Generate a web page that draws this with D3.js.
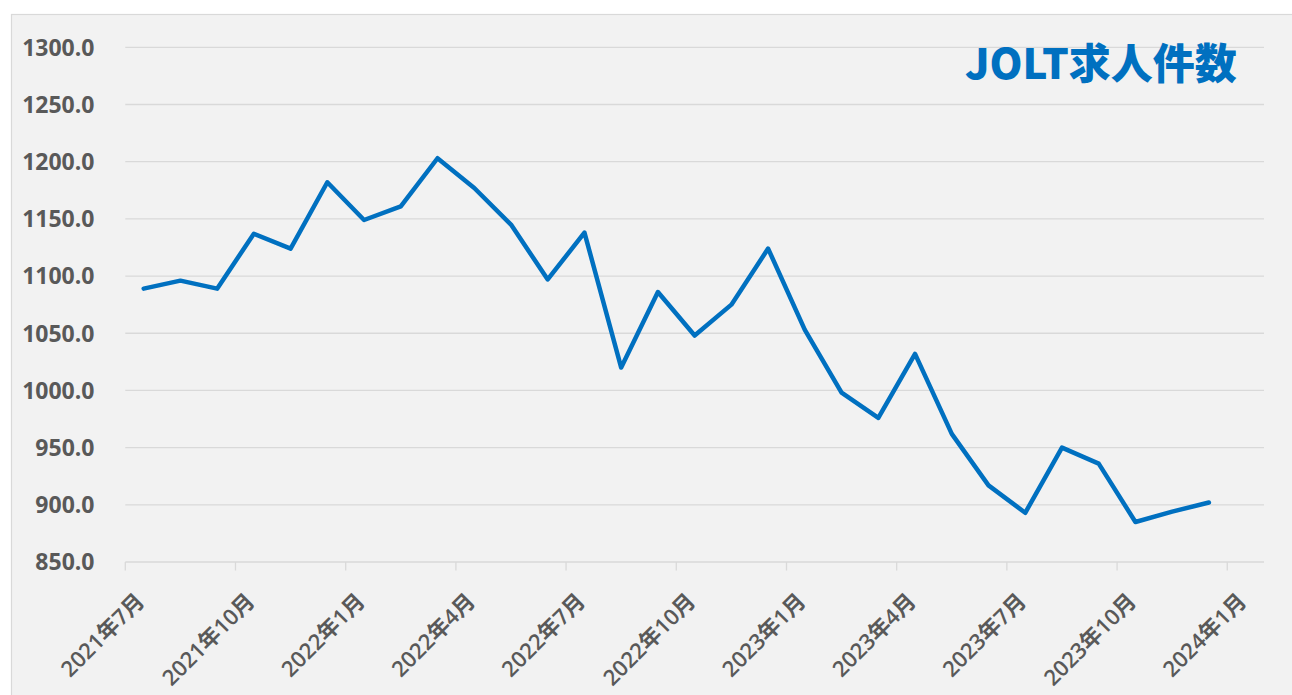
<!DOCTYPE html>
<html>
<head>
<meta charset="utf-8">
<script src="https://cdn.jsdelivr.net/npm/d3@7"></script>
<style>
  html, body { margin: 0; padding: 0; background: #ffffff; }
  svg { display: block; }
</style>
</head>
<body>
<svg id="chart" width="1292" height="695"></svg>
<script>
// ---- Data ----
const months = [
  "2021-07","2021-08","2021-09","2021-10","2021-11","2021-12",
  "2022-01","2022-02","2022-03","2022-04","2022-05","2022-06",
  "2022-07","2022-08","2022-09","2022-10","2022-11","2022-12",
  "2023-01","2023-02","2023-03","2023-04","2023-05","2023-06",
  "2023-07","2023-08","2023-09","2023-10","2023-11","2023-12"
];
const openings = [
  1089, 1096, 1089, 1137, 1124, 1182,
  1149, 1161, 1203, 1177, 1145, 1097,
  1138, 1020, 1086, 1048, 1075, 1124,
  1053, 998, 976, 1032, 962, 917,
  893, 950, 936, 885, 894, 902
];
const xTickLabels = [
  "2021年7月","2021年10月","2022年1月","2022年4月","2022年7月","2022年10月",
  "2023年1月","2023年4月","2023年7月","2023年10月","2024年1月"
];
const yTicks = [850, 900, 950, 1000, 1050, 1100, 1150, 1200, 1250, 1300];
const title = "JOLT求人件数";

// ---- Layout ----
const svg = d3.select("#chart");
const W = 1292, H = 695;
const plot = { left: 125.3, right: 1264, top: 47.3, bottom: 562 };

// background frame
svg.append("rect")
  .attr("x", 11.5).attr("y", 14.5)
  .attr("width", W + 10).attr("height", H + 10)
  .attr("fill", "#f2f2f2")
  .attr("stroke", "#d9d9d9")
  .attr("stroke-width", 1.2);

// scales: month index axis, each month is one slot, points in slot centres
const x = d3.scaleLinear().domain([0, 31]).range([plot.left, plot.right]);
const y = d3.scaleLinear().domain([850, 1300]).range([plot.bottom, plot.top]);

// gridlines
svg.append("g").selectAll("line")
  .data(yTicks)
  .join("line")
  .attr("x1", plot.left).attr("x2", plot.right)
  .attr("y1", d => y(d)).attr("y2", d => y(d))
  .attr("stroke", "#d9d9d9")
  .attr("stroke-width", 1.3);

// y labels
svg.append("g").selectAll("text")
  .data(yTicks)
  .join("text")
  .attr("x", 94.5)
  .attr("y", d => y(d))
  .attr("dy", "0.36em")
  .attr("text-anchor", "end")
  .attr("font-family", "'Open Sans', 'DejaVu Sans', sans-serif")
  .attr("font-weight", "bold")
  .attr("font-size", 23)
  .attr("fill", "#595959")
  .text(d => d3.format(".1f")(d));

// x axis ticks (every 3 months)
const tickIdx = xTickLabels.map((_, i) => i * 3);
svg.append("g").selectAll("line")
  .data(tickIdx)
  .join("line")
  .attr("x1", d => x(d)).attr("x2", d => x(d))
  .attr("y1", plot.bottom).attr("y2", plot.bottom + 8.5)
  .attr("stroke", "#d9d9d9")
  .attr("stroke-width", 1.3);

// x labels rotated
svg.append("g").selectAll("text")
  .data(tickIdx)
  .join("text")
  .attr("transform", d => `translate(${x(d) + 15},${plot.bottom + 35}) rotate(-45)`)
  .attr("dy", "0.36em")
  .attr("text-anchor", "end")
  .attr("font-family", "'Open Sans', 'Noto Sans CJK JP', sans-serif")
  .attr("font-weight", 600)
  .attr("font-size", 22)
  .attr("fill", "#595959")
  .text((d, i) => xTickLabels[i]);

// line
const line = d3.line()
  .x((d, i) => x(i + 0.5))
  .y(d => y(d));

svg.append("path")
  .datum(openings)
  .attr("d", line)
  .attr("fill", "none")
  .attr("stroke", "#0070c0")
  .attr("stroke-width", 4.5)
  .attr("stroke-linejoin", "round")
  .attr("stroke-linecap", "round");

// title
svg.append("text")
  .attr("x", 965)
  .attr("y", 79)
  .attr("font-family", "'Noto Sans CJK JP', sans-serif")
  .attr("font-weight", 900)
  .attr("font-size", 42)
  .attr("fill", "#0070c0")
  .text(title);
</script>
</body>
</html>
